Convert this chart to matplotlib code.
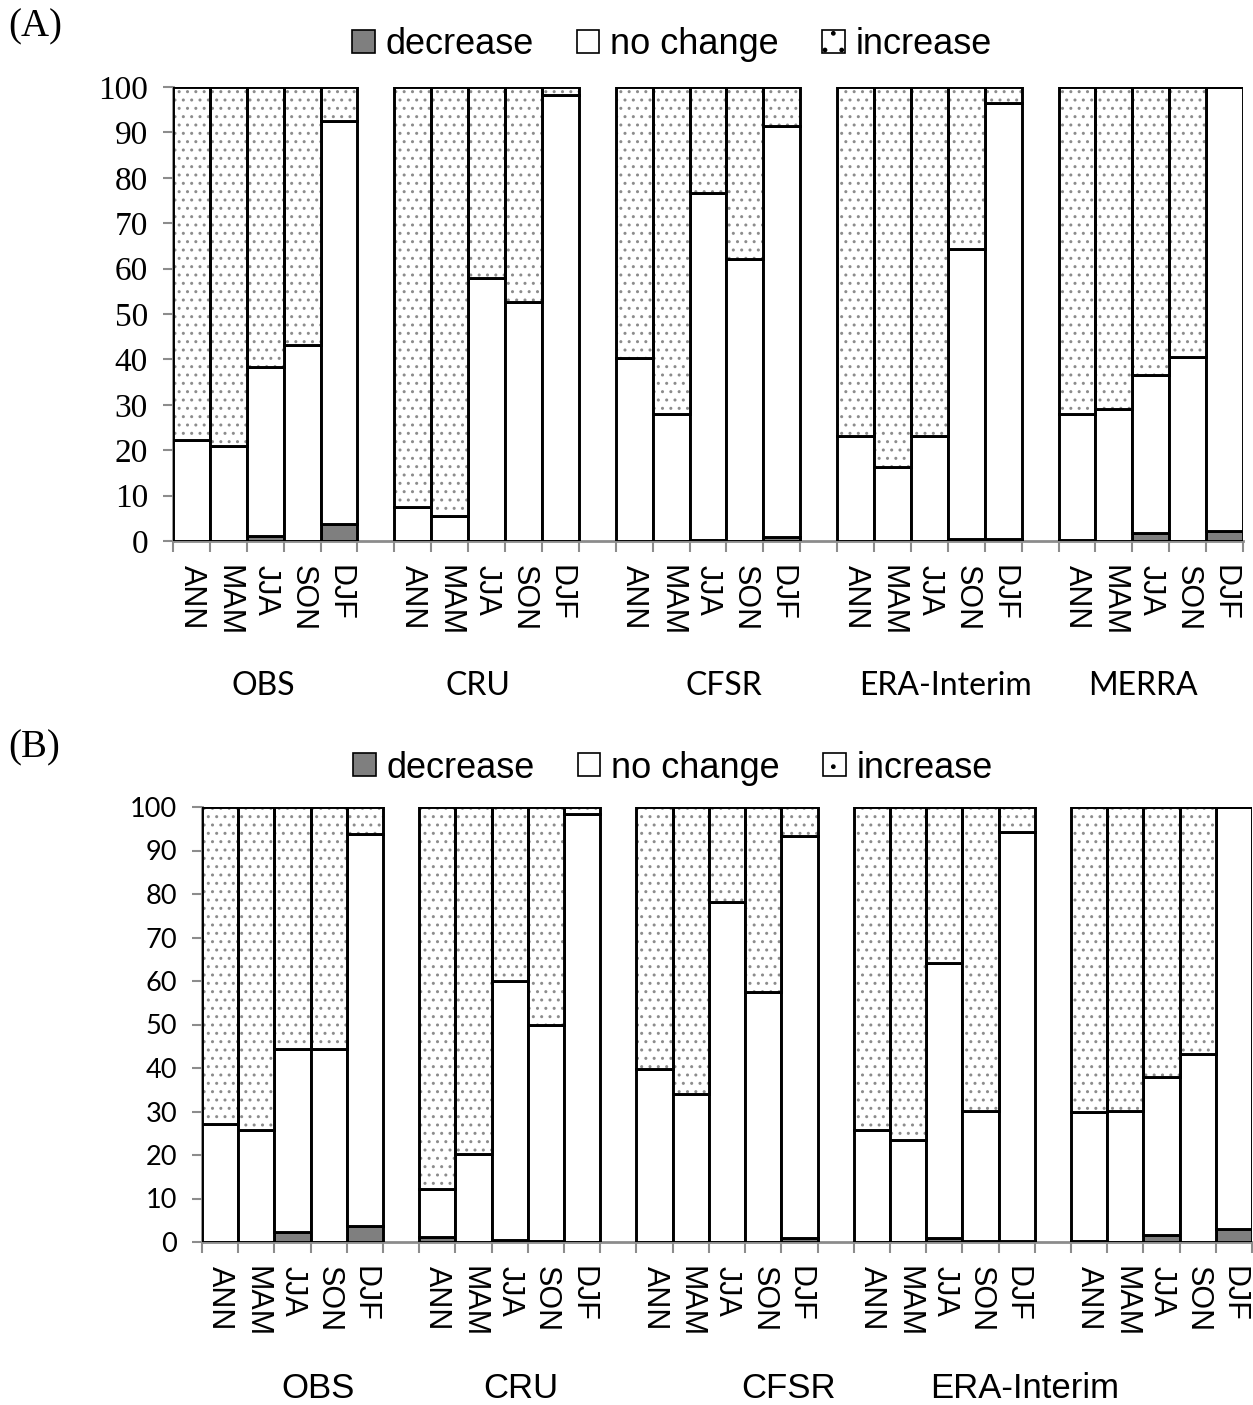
import matplotlib
matplotlib.use("Agg")
import matplotlib.pyplot as plt
from matplotlib.patches import Patch
import numpy as np

seasons = ["ANN", "MAM", "JJA", "SON", "DJF"]
groups_a = ["OBS", "CRU", "CFSR", "ERA-Interim", "MERRA"]
groups_b = ["OBS", "CRU", "CFSR", "ERA-Interim"]

# (A) percentages per dataset, seasons in order ANN MAM JJA SON DJF
dec_a = [0, 0, 1.2, 0, 3.7,
         0, 0, 0, 0, 0,
         0, 0, 0.3, 0, 0.8,
         0, 0, 0, 0.5, 0.4,
         0.3, 0, 1.8, 0, 2.2]
nochg_a = [22.3, 21.0, 37.1, 43.2, 88.8,
           7.5, 5.5, 58.0, 52.7, 98.3,
           40.2, 28.0, 76.4, 62.2, 90.6,
           23.1, 16.2, 23.2, 63.8, 96.0,
           27.7, 29.0, 34.8, 40.6, 97.8]
inc_a = [77.7, 79.0, 61.7, 56.8, 7.5,
         92.5, 94.5, 42.0, 47.3, 1.7,
         59.8, 72.0, 23.3, 37.8, 8.6,
         76.9, 83.8, 76.8, 35.7, 3.6,
         72.0, 71.0, 63.4, 59.4, 0]

# (B)
dec_b = [0, 0, 2.4, 0, 3.6,
         1.2, 0, 0.5, 0.3, 0,
         0, 0, 0, 0, 1.0,
         0, 0, 1.0, 0.2, 0.3,
         0.3, 0, 1.7, 0, 3.0]
nochg_b = [27.1, 25.8, 42.0, 44.4, 90.2,
           11.0, 20.2, 59.5, 49.6, 98.4,
           39.8, 34.0, 78.2, 57.5, 92.3,
           25.8, 23.5, 63.1, 29.9, 94.0,
           29.5, 30.1, 36.2, 43.2, 97.0]
inc_b = [72.9, 74.2, 55.6, 55.6, 6.2,
         87.8, 79.8, 40.0, 50.1, 1.6,
         60.2, 66.0, 21.8, 42.5, 6.7,
         74.2, 76.5, 35.9, 69.9, 5.7,
         70.2, 69.9, 62.1, 56.8, 0]

W, H = 1253, 1405
fig = plt.figure(figsize=(W / 100, H / 100), dpi=100)

SANS = "Liberation Sans"
SERIF = "Liberation Serif"
GREY = "#8c8c8c"
DEC_COL = "#7f7f7f"
EDGE_LW = 2.1


def bar_x():
    # 5 bars per dataset, one empty category between datasets
    return np.array([g * 6 + i for g in range(5) for i in range(5)], dtype=float)


def draw_panel(ax, dec, nochg, inc, ytick_font, ytick_size):
    x = bar_x()
    dec = np.array(dec)
    nochg = np.array(nochg)
    inc = np.array(inc)
    ax.bar(x, dec, width=1, align="edge", color=DEC_COL,
           edgecolor="black", linewidth=EDGE_LW)
    ax.bar(x, nochg, bottom=dec, width=1, align="edge", color="white",
           edgecolor="black", linewidth=EDGE_LW)
    # dotted fill first, then a black outline on top
    ax.bar(x, inc, bottom=dec + nochg, width=1, align="edge", color="white",
           edgecolor=GREY, hatch="..", linewidth=0)
    ax.bar(x, inc, bottom=dec + nochg, width=1, align="edge", fill=False,
           edgecolor="black", linewidth=EDGE_LW)

    ax.set_xlim(0, 29)
    ax.set_ylim(0, 100)
    for s in ["top", "right"]:
        ax.spines[s].set_visible(False)
    for s in ["left", "bottom"]:
        ax.spines[s].set_color(GREY)
        ax.spines[s].set_linewidth(2)
        ax.spines[s].set_zorder(0.5)

    ax.set_yticks(np.arange(0, 101, 10))
    ax.tick_params(axis="y", direction="out", length=7, width=1.5,
                   color=GREY, pad=11, labelsize=ytick_size)
    for lab in ax.get_yticklabels():
        lab.set_family(ytick_font)

    ax.set_xticks(np.arange(0, 30))
    ax.set_xticklabels([])
    ax.set_xticks(x + 0.5, minor=True)
    ax.set_xticklabels(seasons * 5, minor=True, rotation=-90,
                       fontsize=22, family=SANS)
    ax.tick_params(axis="x", which="major", direction="out", length=8,
                   width=1.5, color=GREY)
    ax.tick_params(axis="x", which="minor", length=0, pad=17)


def add_legend(cx, cy):
    handles = [
        Patch(facecolor=DEC_COL, edgecolor="black", linewidth=1.2),
        Patch(facecolor="white", edgecolor="black", linewidth=1.2),
        Patch(facecolor="white", edgecolor="black", linewidth=1.2, hatch="."),
    ]
    fig.legend(handles, ["decrease", "no change", "increase"], ncol=3,
               loc="center", bbox_to_anchor=(cx, cy), frameon=False,
               prop={"family": SANS, "size": 26}, handlelength=0.62,
               handleheight=0.62, handletextpad=0.3, columnspacing=1.2,
               borderpad=0, borderaxespad=0)


ax_a = fig.add_axes([173 / W, 864 / H, 1070 / W, 454 / H])
draw_panel(ax_a, dec_a, nochg_a, inc_a, SERIF, 24)
ax_b = fig.add_axes([202 / W, 163 / H, 1050 / W, 435 / H])
draw_panel(ax_b, dec_b, nochg_b, inc_b, "Lato", 19.5)

add_legend(672 / W, 1 - 45 / H)
add_legend(673 / W, 1 - 768 / H)

fig.text(8 / W, 1 - 27 / H, "(A)", family=SERIF, fontsize=28, va="center")
fig.text(8 / W, 1 - 748 / H, "(B)", family=SERIF, fontsize=28, va="center")

for name, px in zip(groups_a, [263, 478, 724, 945, 1143]):
    fig.text(px / W, 1 - 686 / H, name, family="Lato", fontsize=23,
             ha="center", va="center")
for name, px in zip(groups_b, [318, 521, 789, 1025]):
    fig.text(px / W, 1 - 1388 / H, name, family=SANS, fontsize=25,
             ha="center", va="center")

fig.savefig("out.png", dpi=100)
